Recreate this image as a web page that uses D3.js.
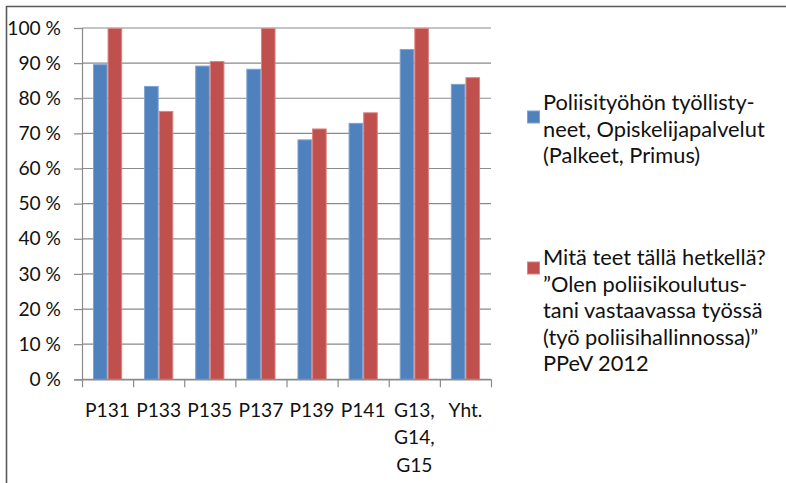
<!DOCTYPE html>
<html><head><meta charset="utf-8">
<script src="https://cdn.jsdelivr.net/npm/d3@7"></script>
<style>
body{margin:0;background:#fff}
svg{display:block}
text{font-family:Lato, "Open Sans", sans-serif; fill:#111}
</style>
</head><body>
<svg id="c" width="786" height="483"></svg>
<script>
// ---- data ----
const categories = ["P131","P133","P135","P137","P139","P141","G13, G14, G15","Yht."];
const seriesBlue = [89.7, 83.5, 89.3, 88.4, 68.3, 73.0, 94.0, 84.1];
const seriesRed  = [100, 76.4, 90.6, 100, 71.4, 76.0, 100, 86.0];
const yTickValues = [0,10,20,30,40,50,60,70,80,90,100];
const legendBlue = ["Poliisityöhön työllisty-","neet, Opiskelijapalvelut","(Palkeet, Primus)"];
const legendRed = ["Mitä teet tällä hetkellä?","”Olen poliisikoulutus-","tani vastaavassa työssä","(työ poliisihallinnossa)”","PPeV 2012"];
const colors = ["#4F81BD","#C0504D"];
const strokes = ["#7EA2D2","#D98482"];

// ---- layout ----
const svg = d3.select("#c");
const pLeft = 82, pRight = 491, pTop = 28, pBottom = 379.3;

// frame
svg.append("path").attr("d","M6.5,483 V6.5 H786").attr("fill","none")
  .attr("stroke","#5a5a5a").attr("stroke-width",1.6);

const x = d3.scaleBand().domain(categories).range([pLeft,pRight]).paddingInner(0).paddingOuter(0);
const xi = d3.scaleBand().domain([0,1]).range([0,x.bandwidth()]).paddingInner(0).paddingOuter(0.75);
const y = d3.scaleLinear().domain([0,100]).range([pBottom, pTop]);

// gridlines
svg.append("g").selectAll("line").data(yTickValues).join("line")
  .attr("x1",pLeft).attr("x2",pRight)
  .attr("y1",d=>y(d)).attr("y2",d=>y(d))
  .attr("stroke","#8a8a8a").attr("stroke-width",1.2);

// y axis
const yAxis = svg.append("g").attr("transform",`translate(${pLeft},0)`)
  .call(d3.axisLeft(y).tickValues(yTickValues).tickSize(8).tickPadding(13).tickFormat(d=>d+" %"));
yAxis.select(".domain").attr("stroke","#8a8a8a").attr("stroke-width",1.2);
yAxis.selectAll(".tick line").attr("stroke","#8a8a8a").attr("stroke-width",1.2);
yAxis.selectAll("text").attr("font-size",19.2).attr("font-family","Lato, sans-serif").attr("fill","#111");

// bars
const seriesAll = [seriesBlue, seriesRed];
seriesAll.forEach((vals,si)=>{
  svg.append("g").selectAll("rect").data(vals).join("rect")
    .attr("x",(d,i)=>x(categories[i])+xi(si)+0.5)
    .attr("width",xi.bandwidth()-1)
    .attr("y",d=>y(d)+0.5)
    .attr("height",d=>pBottom-y(d)-0.5)
    .attr("fill",colors[si]).attr("stroke",strokes[si]).attr("stroke-width",1);
});

// x axis with ticks at category boundaries
const xb = d3.scaleLinear().domain([0,categories.length]).range([pLeft,pRight]);
const xAxis = svg.append("g").attr("transform",`translate(0,${pBottom})`)
  .call(d3.axisBottom(xb).tickValues(d3.range(categories.length+1)).tickSize(8).tickFormat(""));
xAxis.select(".domain").attr("stroke","#8a8a8a").attr("stroke-width",1.2).attr("d",`M${pLeft},0.5H${pRight}`);
xAxis.selectAll(".tick line").attr("stroke","#8a8a8a").attr("stroke-width",1.2);

// x labels
const xl = svg.append("g");
categories.forEach(c=>{
  const lines = c.split(/(?<=,) /);
  const t = xl.append("text").attr("text-anchor","middle").attr("font-size",19.2)
    .attr("x",x(c)+x.bandwidth()/2);
  lines.forEach((ln,k)=>{
    t.append("tspan").attr("x",x(c)+x.bandwidth()/2).attr("y",416.5+k*27.6).text(ln);
  });
});

// legend
function legendItem(lines, color, stroke, sqY, baseY){
  const g = svg.append("g");
  g.append("rect").attr("x",527.5).attr("y",sqY).attr("width",12).attr("height",12)
    .attr("fill",color).attr("stroke",stroke).attr("stroke-width",1);
  const t = g.append("text").attr("font-size",21.8);
  lines.forEach((ln,k)=>{
    t.append("tspan").attr("x",543).attr("y",baseY+k*26.6).text(ln);
  });
}
legendItem(legendBlue, colors[0], strokes[0], 111, 110);
legendItem(legendRed, colors[1], strokes[1], 262, 265);
</script>
</body></html>
